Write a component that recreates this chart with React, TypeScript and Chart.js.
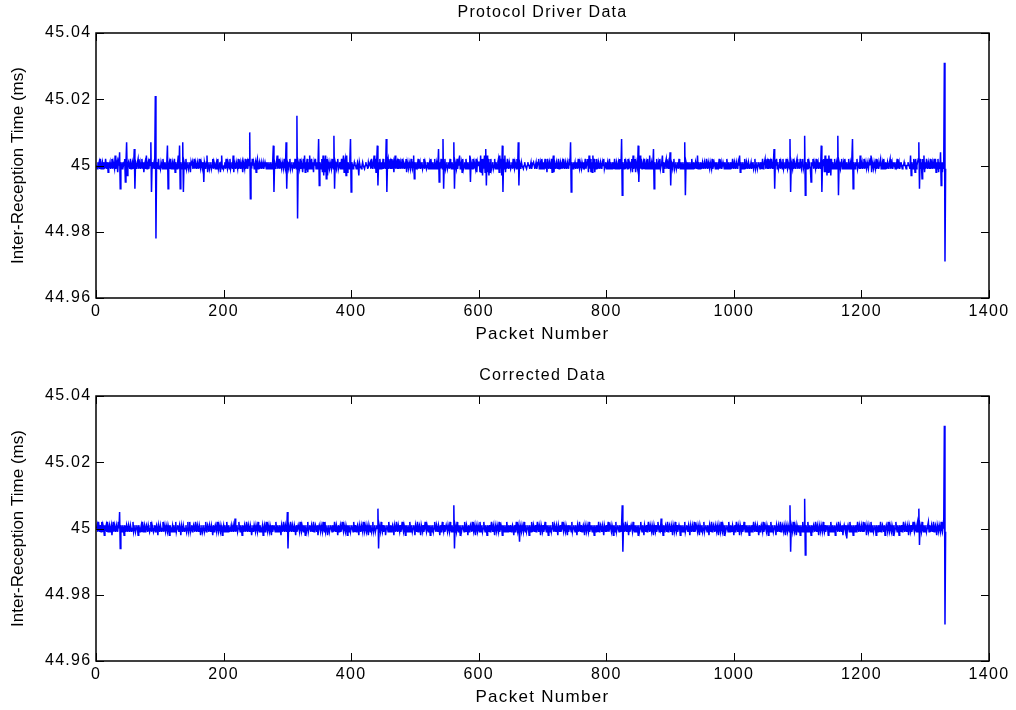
import React, { useEffect, useRef } from "react";
import { Chart, registerables } from "chart.js";

Chart.register(...registerables);

const FONT = "'Liberation Sans', Arial, Helvetica, sans-serif";
const BASELINE_MS = 45;
const X_TICKS = [0, 200, 400, 600, 800, 1000, 1200, 1400];
const Y_TICKS = [44.96, 44.98, 45, 45.02, 45.04];
const PANEL_TITLES = ["Protocol Driver Data", "Corrected Data"];
const X_LABEL = "Packet Number";
const Y_LABEL = "Inter-Reception Time (ms)";

// deviation from 45 ms, in microseconds (0.001 ms), one value per packet (packet 1..1332)
const protocolDriverDevUs = [
  0,-1,1,0,1,-1,2,-1,0,1,-1,1,0,-1,2,0,-1,1,-2,1,0,1,-1,0,2,-1,1,0,-1,3,-1,0,1,-2,1,0,4,-7,1,0,-1,1,0,1,2,-5,1,7,-3,0,
  1,0,-1,2,-1,0,1,-1,0,5,-7,1,0,-1,1,2,-1,0,1,-1,0,2,-1,1,-2,0,1,-1,3,-1,0,1,-1,2,0,7,-8,1,-1,0,1,-1,21,-22,1,0,-1,2,-1,0,
  -1,1,0,-1,2,0,-1,1,0,-1,1,6,-7,0,1,-1,2,-1,0,1,-1,0,2,-2,1,0,-1,1,3,-1,6,-7,1,0,-1,7,-8,1,0,-1,2,-1,0,1,-1,0,1,-2,1,0,
  1,-1,0,2,-1,1,0,-1,1,0,-1,2,0,-1,1,0,-1,1,-5,1,0,-1,1,3,-2,0,1,-1,0,1,-1,0,2,-1,1,0,-1,0,1,-1,2,-1,0,1,-2,1,3,-1,0,-1,
  0,1,-1,2,0,-1,1,0,-1,2,-1,0,1,-1,3,-2,1,0,-1,1,0,-1,2,-1,0,1,-1,0,1,-2,1,0,-1,2,-1,0,1,-1,2,0,10,-10,1,-1,2,0,1,-1,0,1,
  -2,1,2,-1,0,1,-1,0,1,-1,0,1,-1,0,1,0,-1,1,0,-1,1,0,-1,1,0,-1,1,6,-8,1,0,-1,1,3,-1,0,2,-1,1,0,-1,1,0,-1,2,0,-1,7,-7,1,
  0,-1,1,2,-1,0,1,-1,0,1,-1,2,0,-1,15,-16,1,0,-1,2,-1,1,0,-2,2,-1,3,-2,1,0,2,-2,1,-1,3,-1,0,2,-1,1,-2,1,0,2,-1,1,-1,0,8,-6,
  1,0,-1,2,-2,3,-3,2,-2,3,-4,2,-3,1,0,-1,1,0,-1,2,0,-1,9,-7,1,0,-1,1,2,-1,0,1,-1,0,2,-1,1,3,-2,1,2,-3,3,-2,1,0,-1,2,8,-8,
  1,0,-1,0,1,0,0,-1,0,1,0,-3,1,0,0,-1,0,1,0,0,-1,0,1,0,0,-1,1,0,0,1,-1,2,0,-1,1,3,-1,2,-2,1,6,-6,1,-1,2,0,-1,1,-1,2,
  -1,0,1,-1,8,-8,1,2,-1,0,1,-1,2,-1,0,1,-2,1,3,-1,0,1,-1,2,-1,0,1,-1,0,2,-1,1,0,-1,1,2,-2,1,0,-1,1,0,-1,2,0,-1,1,3,-4,1,
  0,-1,1,0,2,-1,0,1,-1,0,1,-1,0,2,-1,1,0,-1,0,1,-1,0,1,-1,2,0,-1,1,0,-1,2,-1,0,1,-1,0,5,-5,1,-1,2,0,-1,8,-7,1,2,-1,0,1,
  -1,0,1,-1,2,0,-1,1,0,-1,7,-7,1,0,-1,2,-1,1,0,3,-1,0,1,-2,2,-1,0,1,-1,2,0,-1,1,0,-1,3,-5,1,0,-1,2,-1,1,0,-1,2,-2,1,0,1,
  1,-2,3,-2,2,-3,2,-1,3,-2,5,-6,3,-2,2,-3,1,-2,2,-1,0,1,-1,0,2,-1,1,0,-1,1,2,-2,3,-1,2,-3,6,-8,2,-1,3,-2,1,-1,2,0,-1,1,0,-1,
  0,1,-1,2,0,-1,1,0,-1,2,-1,7,-6,1,0,-1,1,0,0,-1,0,1,0,0,-1,0,1,0,0,-1,0,1,-1,0,0,1,0,-1,0,1,-1,0,1,2,-1,0,1,-1,2,0,
  -1,1,0,2,-1,1,-2,2,0,-1,1,0,-1,2,-2,1,3,-2,1,0,-1,1,0,-1,2,-1,0,1,-1,0,1,-1,2,0,-1,1,0,-1,1,0,-1,2,0,7,-8,1,0,-1,1,0,
  1,-1,0,1,-1,2,0,-1,1,0,-1,1,0,-1,1,0,2,-1,0,1,2,-2,3,-1,2,-2,1,-2,3,-1,2,-2,1,-1,2,0,-1,1,0,-1,1,0,-1,1,0,2,-1,0,1,-1,
  0,1,-1,0,2,-1,1,0,-1,1,0,-1,2,-1,0,1,-1,0,1,-1,2,0,-1,8,-9,1,0,-1,2,-1,1,0,-1,2,-1,1,0,-1,1,2,-2,3,-1,1,2,-2,1,0,-1,6,
  -5,1,3,-1,2,-1,0,1,-1,2,-1,0,1,-1,2,0,-1,3,-1,0,1,-1,0,5,-7,1,0,-1,2,-1,0,1,-1,2,-1,0,1,3,-2,1,0,-1,1,2,-1,0,1,-1,0,4,
  -6,1,0,-1,1,2,-1,0,1,-1,0,1,-1,2,0,-1,1,0,-1,1,0,-1,7,-9,1,0,-1,1,0,-1,1,0,-1,2,0,-1,1,0,-1,1,0,-1,3,-1,1,0,-1,1,0,-1,
  1,0,-1,1,0,-1,2,0,-1,1,0,-1,1,0,-1,2,-1,0,1,0,-1,1,0,-1,1,0,2,-1,0,1,-1,0,1,0,-1,1,0,-1,2,0,-1,1,0,-1,1,0,-1,2,0,-1,
  1,0,-1,1,0,-1,1,0,3,-2,1,0,-1,1,0,-1,2,0,-1,1,0,-1,1,0,-1,0,1,-1,0,1,-1,0,2,-1,0,1,-1,0,1,0,-1,1,0,-1,2,-1,0,1,2,-1,
  0,1,-1,2,-1,0,1,-1,2,0,-1,1,5,-7,1,0,2,-1,1,-1,0,2,-1,1,0,-1,2,-1,0,1,-1,2,0,-1,1,0,-1,8,-8,1,0,-1,2,-1,1,0,-1,1,2,-1,
  0,1,-1,2,0,-1,1,2,-1,0,9,-9,1,0,-1,2,-1,1,0,-1,-5,1,0,2,-1,1,0,-1,2,-1,0,1,-1,0,1,-1,6,-8,1,0,2,-2,3,-2,2,-3,2,-2,3,-2,
  2,-3,2,-1,1,0,-1,2,-1,0,1,-1,9,-9,1,0,-1,1,2,-1,0,1,-1,2,0,-1,1,0,-1,2,-1,0,1,-1,2,8,-7,1,0,-1,1,0,2,-1,0,1,-1,3,-1,0,
  1,-1,0,2,-1,1,0,-1,1,0,-1,1,0,2,3,-2,1,0,-1,1,0,-1,2,-1,0,1,-1,0,1,2,-1,0,1,-1,2,0,-1,1,0,-1,1,0,-1,1,2,-1,0,1,-1,0,
  1,0,-1,1,0,2,-1,0,1,-1,0,1,0,-1,0,0,1,0,0,-1,0,0,1,0,0,-1,3,-3,1,0,-1,2,1,-2,2,-1,0,1,2,7,-7,2,-1,1,-4,2,-1,3,-2,1,
  -1,2,0,-1,1,0,-1,2,-1,0,1,-1,0,2,-1,2,-2,1,-1,2,-2,1,-1,4,-6,1,-2,1,-1,31,-29,-1,
];

const correctedDevUs = [
  0,1,-1,2,0,-1,1,-1,2,-1,1,0,-2,1,0,1,-1,2,-1,0,1,-1,0,1,-2,0,2,-1,1,0,-1,1,0,-1,2,0,5,-6,1,0,-1,1,0,-2,1,0,-1,1,0,-1,
  1,0,-1,1,0,-1,0,2,-1,0,1,-1,0,1,0,-2,1,0,-1,0,1,-1,2,-1,0,1,-1,0,1,0,-1,1,0,-1,0,2,-1,1,0,-1,0,1,-1,0,1,0,-2,1,0,-1,
  1,0,-1,0,2,-1,1,0,-1,1,0,-1,1,0,-2,1,0,-1,0,1,-1,1,0,-1,2,-1,0,1,0,-1,1,0,-2,1,0,-1,1,0,-1,0,1,-1,0,2,-1,0,2,-1,0,1,
  -1,0,1,0,-1,2,0,-1,1,0,-1,1,0,-2,0,1,-1,0,1,-1,0,2,-1,0,1,0,-1,1,0,-1,1,0,-2,1,-1,0,1,0,-1,2,0,-1,1,0,-1,1,0,-2,0,1,
  -1,1,0,-1,2,0,-1,1,0,-1,0,1,-1,0,1,-1,0,3,-1,0,1,-1,0,2,0,-1,1,0,-2,1,0,-1,1,0,-1,2,0,-1,1,0,-1,1,0,-2,0,1,-1,1,0,-1,
  1,0,-1,2,0,-1,1,0,-1,0,1,-2,0,1,-1,0,2,0,-1,1,0,-1,1,0,-2,1,-1,0,1,0,-1,2,0,-1,1,0,-1,1,0,-2,1,0,-1,2,0,-1,1,0,-1,5,
  -6,1,0,-1,2,0,-1,1,0,-1,1,0,-2,1,-1,0,1,0,-1,2,0,-1,1,0,-1,1,0,-2,1,-1,0,2,-1,0,1,0,-1,1,0,-1,2,-1,0,1,0,-1,1,-2,0,1,
  0,-1,1,0,-1,2,0,-1,2,-1,0,1,-2,0,1,-1,0,1,0,-1,1,0,-1,2,0,-1,1,0,-2,1,-1,0,1,-1,0,2,0,-1,1,0,-1,1,0,-2,1,0,-1,1,-1,0,
  1,0,-1,2,0,-1,1,-1,0,1,0,-2,1,0,-1,1,0,-1,2,0,-1,1,0,-1,1,0,-2,1,0,-1,1,-1,0,2,-1,0,1,-1,0,1,0,6,-6,1,0,-1,2,0,-1,1,
  -1,0,1,-2,0,1,0,-1,2,0,-1,1,-1,0,1,0,-2,1,0,-1,2,0,-1,1,0,-1,1,-1,0,2,0,-1,1,0,-2,1,0,-1,1,0,-1,2,0,-1,1,-1,0,1,0,-2,
  1,0,-1,2,-1,0,1,0,-2,1,0,-1,1,-1,0,2,0,-1,1,0,-1,1,0,-2,1,0,-1,1,-1,0,2,0,-1,1,0,-1,1,0,-2,1,-1,0,2,0,-1,1,-1,0,1,0,
  -1,1,0,-1,2,0,-1,1,0,-1,7,-6,1,0,-1,2,0,-1,1,0,-2,1,-1,0,1,0,-1,2,0,-1,1,0,-2,1,-1,0,1,0,-1,2,0,-1,1,0,-2,1,0,-1,1,0,
  -1,2,0,-1,1,-1,0,2,0,-1,1,0,-2,1,0,-1,1,-1,0,2,0,-1,1,0,-2,1,0,-1,1,0,-1,2,-1,0,1,0,-2,1,0,-1,1,0,-1,2,0,-1,1,0,-1,1,
  -1,0,1,0,-2,1,-1,0,2,0,-1,1,0,-4,1,0,-1,1,0,-1,2,0,-1,1,-1,0,1,0,-2,1,0,-1,2,0,-1,1,0,-1,1,-1,0,2,0,-1,1,0,-2,1,0,-1,
  1,-1,0,2,0,-1,1,0,-2,1,0,-1,1,-1,0,2,0,-1,1,0,-1,1,0,-2,1,0,-1,1,-1,0,2,0,-1,1,0,-1,1,0,-2,1,-1,0,1,0,-1,2,-1,0,1,0,
  -1,1,0,-2,1,0,-1,2,0,-1,1,-1,0,1,0,-2,1,0,-1,1,0,-1,2,-1,0,1,0,-1,1,0,-2,1,0,-1,1,0,-1,2,-1,0,1,0,-1,1,0,-2,1,0,-1,1,
  -1,0,2,-1,0,1,0,-1,1,0,-2,1,0,-1,2,-1,0,1,0,-1,1,0,-1,1,7,-7,1,0,-1,2,0,-1,1,0,-2,1,-1,0,1,0,-1,2,0,-1,1,0,-1,1,0,-2,
  1,-1,0,2,0,-1,1,0,-2,1,0,-1,1,-1,0,2,0,-1,1,0,-1,1,0,-2,1,0,-1,1,-1,0,2,0,-1,1,0,3,-1,0,-2,1,-1,0,1,0,-1,2,-1,0,1,0,
  -1,1,0,-2,1,0,-1,2,0,-1,1,-1,0,1,0,-2,1,0,-1,1,0,-1,2,-1,0,1,0,-1,1,0,-2,1,0,-1,1,0,-1,2,-1,0,1,0,-1,1,0,-2,1,0,-1,1,
  -1,0,2,-1,0,1,0,-1,1,0,-2,1,0,-1,2,-1,0,1,0,-1,1,0,-1,1,0,-2,1,0,-1,2,0,-1,1,0,-2,1,-1,0,1,0,-1,2,0,-1,1,0,-1,1,0,-2,
  1,-1,0,2,0,-1,1,0,-2,1,0,-1,1,-1,0,2,0,-1,1,0,-1,1,0,-2,1,0,-1,1,-1,0,2,0,-1,1,0,-1,1,0,-2,1,-1,0,1,0,-1,2,-1,0,1,0,
  -1,1,0,-2,1,0,-1,2,0,-1,1,-1,0,1,0,-2,1,0,-1,1,0,-1,2,-1,0,1,0,-1,1,0,-2,1,0,-1,1,0,-1,7,-7,1,0,-1,2,0,-1,1,0,-2,1,0,
  -1,1,0,-2,1,0,-1,2,0,-1,9,-8,1,0,-1,2,0,-1,1,0,-2,1,-1,0,1,0,-1,2,0,-1,1,0,-2,1,0,-1,1,0,-1,2,0,-1,1,-1,0,1,0,-2,1,0,
  -1,2,0,-1,1,0,-1,1,-2,0,1,0,-1,2,0,-1,1,0,-1,1,-2,0,1,0,-1,1,-3,0,1,0,-1,2,0,-1,1,0,-2,1,0,-1,1,-1,0,2,0,-1,1,0,-1,1,
  0,-1,2,-1,0,1,0,-2,1,0,-1,1,0,-1,2,0,-1,1,-1,0,1,0,-2,1,0,-1,1,0,-1,2,-1,0,1,0,-1,1,-2,0,1,0,-1,2,0,-1,1,0,-1,1,0,-2,
  1,-1,0,2,0,-1,1,0,-2,1,0,-1,1,-1,0,2,0,-1,1,0,-1,1,0,-2,1,0,-1,1,-1,0,2,0,-1,1,0,-1,1,2,-1,6,-5,1,0,-1,2,0,-1,1,0,-1,
  1,-1,0,1,2,-1,1,0,-1,1,0,-1,2,-1,0,1,0,-2,1,0,-1,1,0,-1,2,0,-1,1,0,31,-29,-1,
];

const matlabFrame = {
  id: "matlabFrame",
  beforeDraw(chart: any) {
    chart.ctx.letterSpacing = "1.3px";
  },
  afterDraw(chart: any) {
    const { ctx, chartArea: a, scales } = chart;
    ctx.save();
    ctx.letterSpacing = "0px";
    ctx.strokeStyle = "#000";
    ctx.lineWidth = 1;
    const TL = 8;
    ctx.beginPath();
    for (const v of X_TICKS) {
      const px = Math.round(scales.x.getPixelForValue(v)) + 0.5;
      ctx.moveTo(px, a.bottom);
      ctx.lineTo(px, a.bottom - TL);
      ctx.moveTo(px, a.top);
      ctx.lineTo(px, a.top + TL);
    }
    for (const v of Y_TICKS) {
      const py = Math.round(scales.y.getPixelForValue(v)) + 0.5;
      ctx.moveTo(a.left, py);
      ctx.lineTo(a.left + TL, py);
      ctx.moveTo(a.right, py);
      ctx.lineTo(a.right - TL, py);
    }
    ctx.stroke();
    ctx.lineWidth = 1.5;
    ctx.strokeRect(a.left, a.top, a.right - a.left, a.bottom - a.top);
    // y axis title
    ctx.fillStyle = "#000";
    ctx.font = `17px ${FONT}`;
    ctx.textAlign = "center";
    ctx.textBaseline = "middle";
    ctx.translate(18, (a.top + a.bottom) / 2);
    ctx.rotate(-Math.PI / 2);
    ctx.fillText(Y_LABEL, 0, 0);
    ctx.restore();
  },
};

function makeConfig(title: string, devUs: number[]): any {
  const points = devUs.map((d, i) => ({ x: i + 1, y: BASELINE_MS + d / 1000 }));
  return {
    type: "line",
    data: {
      datasets: [
        {
          data: points,
          borderColor: "#0000ff",
          borderWidth: 1.5,
          pointRadius: 0,
          fill: false,
          tension: 0,
        },
      ],
    },
    options: {
      animation: false,
      responsive: false,
      devicePixelRatio: 1,
      events: [],
      layout: { padding: { left: 0, right: 27, top: 0, bottom: 0 } },
      plugins: {
        legend: { display: false },
        tooltip: { enabled: false },
        title: {
          display: true,
          text: title,
          fullSize: false,
          color: "#000",
          font: { family: FONT, size: 16, weight: "normal", lineHeight: 1.2 },
          padding: { top: 2.9, bottom: 10.9 },
        },
      },
      scales: {
        x: {
          type: "linear",
          min: 0,
          max: 1400,
          afterBuildTicks: (s: any) => {
            s.ticks = X_TICKS.map((v) => ({ value: v }));
          },
          afterFit: (s: any) => {
            s.height = 47;
          },
          grid: { display: false, drawTicks: false },
          border: { display: false },
          ticks: {
            color: "#000",
            font: { family: FONT, size: 16 },
            padding: 4,
            maxRotation: 0,
            autoSkip: false,
            callback: (v: any) => String(v),
          },
          title: {
            display: true,
            text: X_LABEL,
            color: "#000",
            font: { family: FONT, size: 17 },
            padding: { top: 0, bottom: 0.8 },
          },
        },
        y: {
          type: "linear",
          min: 44.96,
          max: 45.04,
          afterBuildTicks: (s: any) => {
            s.ticks = Y_TICKS.map((v) => ({ value: v }));
          },
          afterFit: (s: any) => {
            s.width = 96;
          },
          grid: { display: false, drawTicks: false },
          border: { display: false },
          ticks: {
            color: "#000",
            font: { family: FONT, size: 16 },
            padding: 4.5,
            autoSkip: false,
            callback: (v: any) => String(parseFloat(Number(v).toFixed(2))),
          },
        },
      },
    },
    plugins: [matlabFrame],
  };
}

function PlotPanel({ title, devUs, top }: { title: string; devUs: number[]; top: number }) {
  const ref = useRef<HTMLCanvasElement>(null);
  useEffect(() => {
    const chart = new Chart(ref.current as HTMLCanvasElement, makeConfig(title, devUs));
    return () => chart.destroy();
  }, [title, devUs]);
  return (
    <canvas
      ref={ref}
      width={1016}
      height={345}
      style={{ position: "absolute", left: 0, top, width: 1016, height: 345 }}
    />
  );
}

export default function App() {
  return (
    <div
      style={{
        position: "fixed",
        left: 0,
        top: 0,
        width: 1016,
        height: 710,
        background: "#fff",
        overflow: "hidden",
      }}
    >
      <PlotPanel title={PANEL_TITLES[0]} devUs={protocolDriverDevUs} top={0} />
      <PlotPanel title={PANEL_TITLES[1]} devUs={correctedDevUs} top={363} />
    </div>
  );
}
